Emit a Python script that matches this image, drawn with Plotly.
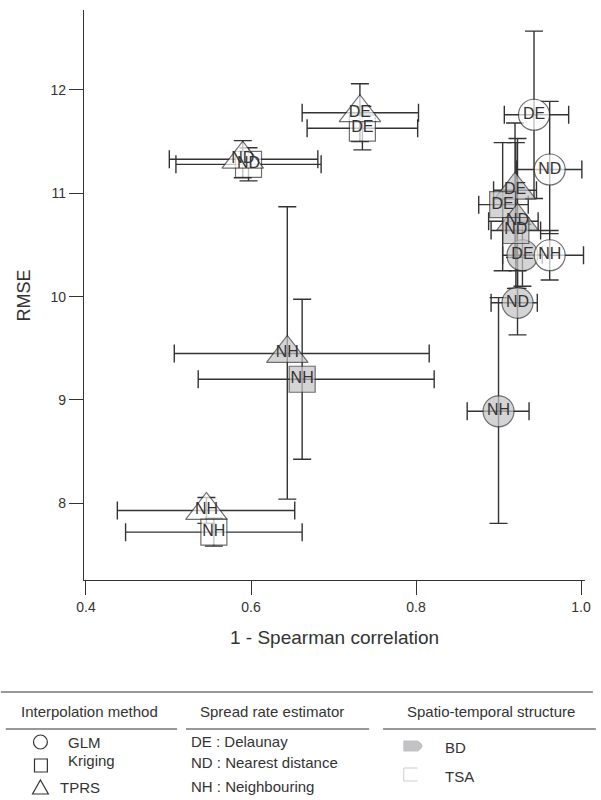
import plotly.graph_objects as go

# ---------------- data (drawing order) ----------------
method = ["GLM", "GLM", "GLM", "GLM", "GLM", "GLM",
          "TPRS", "Kriging", "TPRS", "Kriging",
          "Kriging", "TPRS", "Kriging", "TPRS", "Kriging", "TPRS", "TPRS", "Kriging"]
estimator = ["NH", "ND", "DE", "NH", "ND", "DE",
             "DE", "DE", "ND", "ND",
             "NH", "NH", "DE", "DE", "ND", "ND", "NH", "NH"]
structure = ["BD", "BD", "BD", "TSA", "TSA", "TSA",
             "BD", "BD", "BD", "BD",
             "BD", "BD", "TSA", "TSA", "TSA", "TSA", "TSA", "TSA"]
spearman = [0.900, 0.923, 0.929, 0.962, 0.962, 0.943,
            0.920, 0.905, 0.923, 0.921,
            0.662, 0.644, 0.735, 0.732, 0.597, 0.590, 0.546, 0.555]
spearman_lo = [0.038, 0.032, 0.024, 0.041, 0.040, 0.036,
               0.026, 0.029, 0.035, 0.030,
               0.126, 0.137, 0.067, 0.070, 0.088, 0.089, 0.108, 0.107]
spearman_hi = [0.037, 0.024, 0.024, 0.041, 0.039, 0.042,
               0.026, 0.031, 0.025, 0.030,
               0.160, 0.172, 0.067, 0.071, 0.088, 0.091, 0.107, 0.107]
rmse = [8.89, 9.94, 10.40, 10.40, 11.23, 11.76,
        11.03, 10.89, 10.73, 10.64,
        9.20, 9.45, 11.63, 11.78, 11.28, 11.33, 7.93, 7.72]
rmse_lo = [1.085, 0.31, 0.30, 0.24, 0.62, 0.81,
           0.65, 0.64, 0.65, 0.56,
           0.774, 1.41, 0.21, 0.28, 0.16, 0.18, 0.125, 0.135]
rmse_hi = [1.10, 0.31, 0.30, 0.24, 0.66, 0.81,
           0.65, 0.60, 0.80, 0.85,
           0.775, 1.42, 0.21, 0.28, 0.16, 0.18, 0.125, 0.135]

x_ticks = [0.4, 0.6, 0.8, 1.0]
x_ticklabels = ["0.4", "0.6", "0.8", "1.0"]
y_ticks = [8, 9, 10, 11, 12]
y_ticklabels = ["8", "9", "10", "11", "12"]

legend_methods = ["GLM", "Kriging", "TPRS"]
legend_estimators = ["DE : Delaunay", "ND : Nearest distance", "NH : Neighbouring"]
legend_structures = ["BD", "TSA"]
legend_headers = ["Interpolation method", "Spread rate estimator", "Spatio-temporal structure"]

# ---------------- styles ----------------
FONT = "Liberation Sans, Arial, sans-serif"
INK = "#333333"
symbol_map = {"GLM": "circle", "Kriging": "square", "TPRS": "triangle-up"}
size_map = {"GLM": 31, "Kriging": 26, "TPRS": 36}
fill_map = {"BD": "#c3c3c5", "TSA": "#ffffff"}

fig = go.Figure()
fig.add_trace(go.Scatter(
    x=spearman, y=rmse, mode="markers+text",
    text=estimator, textposition="middle center",
    textfont=dict(family=FONT, size=16, color=INK),
    marker=dict(symbol=[symbol_map[m] for m in method],
                size=[size_map[m] for m in method],
                color=[fill_map[s] for s in structure],
                line=dict(color=INK, width=1.2)),
    error_x=dict(type="data", symmetric=False, array=spearman_hi, arrayminus=spearman_lo,
                 color=INK, thickness=1.4, width=9),
    error_y=dict(type="data", symmetric=False, array=rmse_hi, arrayminus=rmse_lo,
                 color=INK, thickness=1.4, width=9),
    showlegend=False, cliponaxis=False, hoverinfo="skip"))

# plot area in pixels
L, R, T, B = 84, 590, 10, 580
W, H = 601, 800


def X(px):
    return (px - L) / (R - L)


def Y(py):
    return (B - py) / (B - T)


fig.update_layout(
    width=W, height=H,
    margin=dict(l=L, r=W - R, t=T, b=H - B, pad=0),
    paper_bgcolor="white", plot_bgcolor="white",
    font=dict(family=FONT, color=INK, size=14),
    xaxis=dict(range=[0.3976, 1.0048], tickvals=x_ticks, ticktext=x_ticklabels,
               showline=True, linecolor=INK, linewidth=1.4, ticks="outside",
               ticklen=14, tickwidth=1.4, tickcolor=INK, showgrid=False, zeroline=False,
               tickfont=dict(size=14, color=INK)),
    yaxis=dict(range=[7.257, 12.774], tickvals=y_ticks, ticktext=y_ticklabels,
               showline=True, linecolor=INK, linewidth=1.4, ticks="outside",
               ticklen=14, tickwidth=1.4, tickcolor=INK, showgrid=False, zeroline=False,
               tickfont=dict(size=14, color=INK)),
)

annotations = []
shapes = []

# axis titles
annotations.append(dict(text="1 - Spearman correlation", x=X(337), y=Y(637), xref="paper", yref="paper",
                        showarrow=False, xanchor="center", yanchor="middle",
                        font=dict(size=19, color=INK, family=FONT)))
annotations.append(dict(text="RMSE", x=X(23), y=Y(296), xref="paper", yref="paper",
                        showarrow=False, xanchor="center", yanchor="middle", textangle=-90,
                        font=dict(size=18, color=INK, family=FONT)))

# legend frame lines
line_style = dict(color=INK, width=1)
shapes.append(dict(type="line", xref="paper", yref="paper", x0=X(0), x1=X(598), y0=Y(692), y1=Y(692),
                   line=line_style))
for a, b in [(5, 178), (187, 372), (386, 601)]:
    shapes.append(dict(type="line", xref="paper", yref="paper", x0=X(a), x1=X(b), y0=Y(729), y1=Y(729),
                       line=line_style))

LEG = 15
# headers
for txt, cx in zip(legend_headers, [90, 274, 495]):
    annotations.append(dict(text=txt, x=X(cx), y=Y(711), xref="paper", yref="paper", showarrow=False,
                            xanchor="center", yanchor="middle", font=dict(size=LEG, color=INK, family=FONT)))

# method legend: markers as outline shapes
shapes.append(dict(type="circle", xref="paper", yref="paper", x0=X(33), x1=X(47), y0=Y(749), y1=Y(735),
                   line=dict(color=INK, width=1.2)))
shapes.append(dict(type="rect", xref="paper", yref="paper", x0=X(34), x1=X(47), y0=Y(772), y1=Y(759),
                   line=dict(color=INK, width=1.2)))
shapes.append(dict(type="path", xref="paper", yref="paper",
                   path=f"M {X(32)},{Y(794)} L {X(48)},{Y(794)} L {X(40)},{Y(780)} Z",
                   line=dict(color=INK, width=1.2)))
for txt, px, py in zip(legend_methods, [66, 66, 58], [742, 760, 787]):
    annotations.append(dict(text=txt, x=X(px), y=Y(py), xref="paper", yref="paper", showarrow=False,
                            xanchor="left", yanchor="middle", font=dict(size=LEG, color=INK, family=FONT)))

# estimator legend
for txt, py in zip(legend_estimators, [741, 763, 786]):
    annotations.append(dict(text=txt, x=X(190), y=Y(py), xref="paper", yref="paper", showarrow=False,
                            xanchor="left", yanchor="middle", font=dict(size=LEG, color=INK, family=FONT)))

# structure legend
shapes.append(dict(type="path", xref="paper", yref="paper",
                   path=(f"M {X(407)},{Y(741)} L {X(421)},{Y(741)} Q {X(430)},{Y(746)} {X(421)},{Y(751)} "
                         f"L {X(407)},{Y(751)} Z"),
                   fillcolor="#c3c3c5", line=dict(color="#c3c3c5", width=1)))
shapes.append(dict(type="path", xref="paper", yref="paper",
                   path=f"M {X(421)},{Y(768)} L {X(407)},{Y(768)} L {X(407)},{Y(781)} L {X(421)},{Y(781)}",
                   line=dict(color="#cccccc", width=1)))
for txt, py in zip(legend_structures, [747, 776]):
    annotations.append(dict(text=txt, x=X(447), y=Y(py), xref="paper", yref="paper", showarrow=False,
                            xanchor="left", yanchor="middle", font=dict(size=LEG, color=INK, family=FONT)))

fig.update_layout(annotations=annotations, shapes=shapes)
fig.write_html("out.html")
